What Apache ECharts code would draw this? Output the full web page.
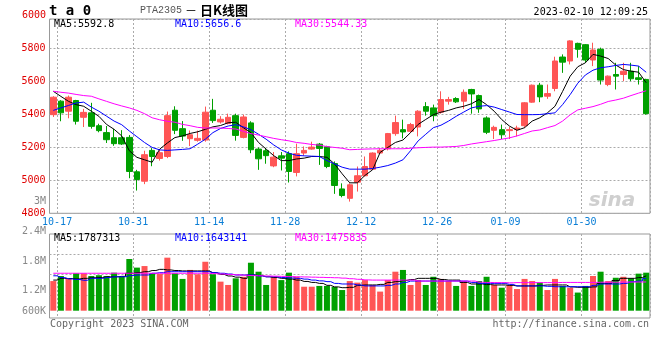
<!DOCTYPE html>
<html>
<head>
<meta charset="utf-8">
<script src="https://cdn.jsdelivr.net/npm/echarts@6/dist/echarts.min.js"></script>
<style>
html,body{margin:0;padding:0;background:#fff;}
#c{width:660px;height:360px;}
</style>
</head>
<body>
<div id="c"></div>
<script>
// ---------- data ----------
const dates = ['10-17','10-18','10-19','10-20','10-21','10-24','10-25','10-26','10-27','10-28',
'10-31','11-01','11-02','11-03','11-04','11-07','11-08','11-09','11-10','11-11',
'11-14','11-15','11-16','11-17','11-18','11-21','11-22','11-23','11-24','11-25',
'11-28','11-29','11-30','12-01','12-02','12-05','12-06','12-07','12-08','12-09',
'12-12','12-13','12-14','12-15','12-16','12-19','12-20','12-21','12-22','12-23',
'12-26','12-27','12-28','12-29','12-30','01-03','01-04','01-05','01-06',
'01-09','01-10','01-11','01-12','01-13','01-16','01-17','01-18','01-19','01-20',
'01-30','01-31','02-01','02-02','02-03','02-06','02-07','02-08','02-09','02-10'];
const tickDates = ['10-17','10-31','11-14','11-28','12-12','12-26','01-09','01-30'];

const opens = [5399,5481,5420,5485,5383,5410,5332,5290,5259,5259,
5261,5052,4995,5182,5133,5145,5426,5314,5253,5243,
5245,5426,5355,5345,5393,5261,5349,5190,5180,5088,
5149,5162,5048,5166,5190,5220,5204,5102,4948,4891,
4989,5028,5068,5166,5192,5284,5308,5298,5324,5448,
5440,5414,5481,5497,5481,5552,5515,5379,5304,5308,
5302,5308,5332,5475,5578,5511,5558,5749,5725,5832,
5824,5731,5796,5582,5643,5643,5663,5623,5613];
const closes = [5505,5410,5505,5359,5413,5328,5302,5247,5223,5221,
5054,5005,5156,5145,5168,5393,5304,5269,5277,5255,
5414,5363,5371,5383,5273,5385,5186,5131,5150,5141,
5135,5054,5162,5182,5202,5194,5084,4969,4908,4973,
5028,5084,5166,5182,5284,5351,5294,5339,5420,5420,
5393,5491,5491,5477,5535,5525,5434,5292,5322,5277,
5308,5318,5471,5578,5507,5527,5725,5718,5847,5796,
5731,5792,5609,5633,5633,5663,5617,5613,5405];
const lows = [5385,5359,5377,5339,5324,5314,5292,5227,5210,5215,
5013,4938,4977,5086,5120,5135,5281,5240,5208,5235,
5235,5349,5345,5340,5241,5255,5165,5064,5101,5080,
5060,4987,5024,5150,5186,5094,5074,4918,4897,4871,
4932,5024,5064,5160,5182,5271,5255,5288,5267,5393,
5359,5405,5460,5470,5434,5405,5410,5281,5251,5251,
5251,5267,5318,5471,5475,5495,5541,5653,5704,5745,
5714,5694,5582,5572,5552,5603,5603,5582,5399];
const highs = [5511,5487,5515,5489,5434,5471,5344,5330,5312,5305,
5275,5064,5180,5196,5186,5418,5450,5360,5303,5302,
5448,5495,5390,5405,5405,5399,5359,5200,5196,5172,
5172,5176,5223,5206,5235,5227,5210,5115,4982,4982,
5084,5145,5170,5196,5288,5393,5369,5349,5426,5475,
5460,5541,5507,5505,5552,5556,5521,5389,5332,5339,
5324,5332,5475,5582,5592,5582,5751,5765,5851,5836,
5828,5836,5806,5637,5714,5714,5714,5694,5617];

const ma5 = [5541,5510,5480,5460,5450,5420,5389,5340,5310,5270,
5180,5140,5125,5110,5190,5227,5260,5270,5285,5295,
5310,5325,5333,5350,5353,5320,5290,5230,5190,5150,
5120,5120,5130,5135,5145,5145,5140,5100,5040,4985,
4985,5030,5064,5170,5200,5230,5245,5290,5340,5370,
5399,5414,5425,5440,5450,5465,5491,5460,5420,5369,
5330,5304,5320,5360,5380,5410,5450,5540,5633,5690,
5714,5765,5755,5740,5700,5673,5663,5657,5592.8];
const ma10 = [5425,5440,5455,5470,5475,5445,5420,5390,5360,5338,
5300,5265,5230,5200,5185,5182,5185,5188,5192,5220,
5250,5290,5315,5330,5338,5325,5308,5280,5250,5215,
5185,5165,5152,5149,5147,5145,5120,5100,5080,5068,
5068,5068,5072,5080,5090,5105,5125,5180,5240,5280,
5320,5335,5360,5389,5415,5440,5450,5454,5445,5430,
5415,5400,5399,5399,5400,5405,5410,5460,5521,5590,
5640,5669,5684,5690,5698,5704,5700,5694,5656.6];
const ma30 = [5541,5535,5530,5522,5515,5511,5495,5480,5465,5452,
5440,5425,5405,5380,5368,5359,5353,5340,5332,5322,
5318,5318,5318,5315,5312,5298,5284,5275,5265,5255,
5247,5240,5230,5225,5218,5214,5205,5200,5195,5186,
5188,5190,5191,5192,5192,5192,5192,5195,5198,5200,
5202,5202,5204,5206,5212,5221,5228,5235,5242,5250,
5258,5270,5285,5300,5306,5320,5333,5360,5398,5428,
5438,5448,5462,5479,5488,5499,5515,5530,5544.33];

const volumes = [1520000,1780000,1630000,1920000,1920000,1780000,1820000,1780000,1950000,1740000,
2650000,2210000,2290000,1920000,1880000,2720000,1920000,1630000,2090000,1870000,
2510000,1870000,1490000,1320000,1660000,1740000,2460000,2000000,1320000,1740000,
1570000,1950000,1740000,1230000,1230000,1270000,1270000,1220000,1060000,1520000,
1440000,1570000,1320000,980000,1570000,2000000,2090000,1320000,1570000,1320000,
1740000,1630000,1520000,1270000,1520000,1270000,1520000,1740000,1320000,1180000,
1320000,1110000,1630000,1520000,1440000,1060000,1630000,1270000,1180000,930000,
1270000,1780000,2000000,1520000,1690000,1740000,1660000,1900000,1950000];
const volMa5 = [1570000,1660000,1650000,1630000,1660000,1690000,1700000,1740000,1740000,1760000,
1920000,1960000,2000000,2060000,2120000,2090000,2060000,2040000,2040000,2040000,
2040000,1950000,1860000,1780000,1720000,1660000,1830000,1800000,1740000,1700000,
1660000,1620000,1570000,1500000,1450000,1400000,1300000,1220000,1180000,1200000,
1300000,1320000,1320000,1350000,1450000,1490000,1550000,1600000,1660000,1660000,
1660000,1600000,1570000,1570000,1450000,1370000,1370000,1340000,1320000,1320000,
1300000,1270000,1270000,1270000,1300000,1320000,1320000,1320000,1220000,1200000,
1200000,1220000,1400000,1400000,1550000,1660000,1660000,1700000,1787313];
const volMa10 = [1790000,1700000,1630000,1600000,1560000,1660000,1660000,1700000,1740000,1740000,
1800000,1830000,1830000,1920000,1950000,2000000,2000000,2000000,2000000,2000000,
2000000,1950000,1920000,1880000,1830000,1830000,1830000,1780000,1740000,1740000,
1700000,1680000,1660000,1620000,1570000,1530000,1490000,1400000,1370000,1370000,
1320000,1270000,1270000,1270000,1300000,1370000,1450000,1520000,1520000,1520000,
1520000,1520000,1520000,1520000,1520000,1450000,1400000,1400000,1400000,1400000,
1350000,1270000,1270000,1270000,1270000,1250000,1230000,1230000,1230000,1230000,
1230000,1300000,1370000,1370000,1370000,1400000,1490000,1520000,1643141];
const volMa30 = [1920000,1920000,1920000,1920000,1920000,1920000,1920000,1920000,1920000,1920000,
1920000,1920000,1920000,1920000,1920000,1920000,1920000,1920000,1920000,1920000,
1920000,1900000,1880000,1860000,1840000,1820000,1800000,1790000,1780000,1770000,
1760000,1750000,1740000,1730000,1720000,1710000,1700000,1690000,1670000,1640000,
1610000,1580000,1570000,1570000,1570000,1570000,1570000,1570000,1520000,1520000,
1520000,1520000,1520000,1520000,1520000,1520000,1460000,1450000,1440000,1440000,
1430000,1440000,1440000,1440000,1440000,1440000,1440000,1450000,1450000,1450000,
1450000,1450000,1460000,1460000,1460000,1470000,1470000,1470000,1475835];

const priceTop = '6000';
const volTickLabels = ['2.4M','1.8M','1.2M','600K'];

// ---------- chart ----------
const MONO = '"DejaVu Sans Mono", "Liberation Mono", monospace';
const UP = '#ff5555', DOWN = '#00a000';
const tickIdx = tickDates.map(d => dates.indexOf(d));
const kData = opens.map((o, i) => [o, closes[i], lows[i], highs[i]]);
const volData = volumes.map((v, i) => ({
  value: v,
  itemStyle: { color: closes[i] >= opens[i] ? UP : DOWN }
}));

const GL = 49.5, GW = 600.5;
const dotted = { color: '#aaa', type: [2, 2], width: 1 };

const chart = echarts.init(document.getElementById('c'), null, { renderer: 'canvas' });

function txt(text, x, y, fill, opts) {
  opts = opts || {};
  return {
    type: 'text', x: x, y: y, silent: true, z: 100,
    style: {
      text: text, fill: fill,
      font: opts.font || ('10px ' + MONO),
      align: opts.align || 'left',
      verticalAlign: 'middle'
    }
  };
}

chart.setOption({
  animation: false,
  backgroundColor: '#fff',
  grid: [
    { left: GL, top: 19, width: GW, height: 194.3, show: true, borderColor: '#999', borderWidth: 1 },
    { left: GL, top: 234, width: GW, height: 84, show: true, borderColor: '#999', borderWidth: 1 }
  ],
  xAxis: [
    {
      type: 'category', gridIndex: 0, data: dates, boundaryGap: true,
      axisLine: { show: false }, axisTick: { show: false },
      axisLabel: {
        interval: (i, v) => tickDates.indexOf(v) >= 0,
        color: '#0a7ed6', fontFamily: MONO, fontSize: 10, margin: 4,
        padding: [0, 0, 0, 7.6]
      },
      splitLine: { show: true, interval: (i) => tickIdx.indexOf(i - 1) >= 0, lineStyle: dotted }
    },
    {
      type: 'category', gridIndex: 1, data: dates, boundaryGap: true,
      axisLine: { show: false }, axisTick: { show: false }, axisLabel: { show: false },
      splitLine: { show: true, interval: (i) => tickIdx.indexOf(i - 1) >= 0, lineStyle: dotted }
    }
  ],
  yAxis: [
    {
      type: 'value', gridIndex: 0, min: 4800, max: 5980, interval: 200,
      axisLine: { show: false }, axisTick: { show: false },
      axisLabel: { color: '#e00000', fontFamily: MONO, fontSize: 10, margin: 4, showMaxLabel: false, formatter: (v) => String(v) },
      splitLine: { show: true, lineStyle: dotted }
    },
    {
      type: 'value', gridIndex: 1, min: -374000, max: 3933000,
      axisLine: { show: false }, axisTick: { show: false }, axisLabel: { show: false },
      splitLine: { show: false }
    },
    {
      type: 'value', gridIndex: 1, inverse: true, min: 0, max: 4.14, interval: 1,
      axisLine: { show: false }, axisTick: { show: false }, axisLabel: { show: false },
      splitLine: { show: true, lineStyle: { color: ['rgba(0,0,0,0)', '#aaa', '#aaa', '#aaa', 'rgba(0,0,0,0)', 'rgba(0,0,0,0)'], type: [2, 2], width: 1 } }
    }
  ],
  series: [
    {
      type: 'candlestick', xAxisIndex: 0, yAxisIndex: 0, data: kData, barWidth: 6,
      itemStyle: { color: UP, color0: DOWN, borderColor: UP, borderColor0: DOWN, borderWidth: 1 }
    },
    { type: 'line', xAxisIndex: 0, yAxisIndex: 0, data: ma5, symbol: 'none', lineStyle: { color: '#000', width: 1 }, z: 5 },
    { type: 'line', xAxisIndex: 0, yAxisIndex: 0, data: ma10, symbol: 'none', lineStyle: { color: '#0000ff', width: 1 }, z: 5 },
    { type: 'line', xAxisIndex: 0, yAxisIndex: 0, data: ma30, symbol: 'none', lineStyle: { color: '#ff00ff', width: 1 }, z: 5 },
    { type: 'bar', xAxisIndex: 1, yAxisIndex: 1, data: volData, barWidth: 6 },
    { type: 'line', xAxisIndex: 1, yAxisIndex: 1, data: volMa5, symbol: 'none', step: 'middle', lineStyle: { color: '#000', width: 1 }, z: 5 },
    { type: 'line', xAxisIndex: 1, yAxisIndex: 1, data: volMa10, symbol: 'none', step: 'middle', lineStyle: { color: '#0000ff', width: 1 }, z: 5 },
    { type: 'line', xAxisIndex: 1, yAxisIndex: 1, data: volMa30, symbol: 'none', step: 'middle', lineStyle: { color: '#ff00ff', width: 1 }, z: 5 }
  ],
  graphic: [
    txt('t a 0', 49, 11, '#000', { font: 'bold 14px ' + MONO }),
    txt('PTA2305', 140, 10, '#555', { font: '10px "Liberation Mono", monospace' }),
    txt('－', 191, 10, '#000', { font: '12px "Noto Sans CJK SC"', align: 'center' }),
    txt('日K线图', 200, 10, '#000', { font: 'bold 13px "Noto Sans CJK SC"' }),
    txt('2023-02-10 12:09:25', 648, 12, '#000', { align: 'right' }),
    txt('MA5:' + ma5[ma5.length - 1], 54, 24, '#000'),
    txt('MA10:' + ma10[ma10.length - 1], 175, 24, '#0000ff'),
    txt('MA30:' + ma30[ma30.length - 1], 295, 24, '#ff00ff'),
    txt(priceTop, 46, 15.7, '#e00000', { align: 'right' }),
    txt('3M', 46, 201, '#888', { align: 'right' }),
    txt(volTickLabels[0], 46, 231, '#888', { align: 'right' }),
    txt(volTickLabels[1], 46, 261, '#888', { align: 'right' }),
    txt(volTickLabels[2], 46, 290, '#888', { align: 'right' }),
    txt(volTickLabels[3], 46, 311, '#888', { align: 'right' }),
    txt('MA5:' + volMa5[volMa5.length - 1], 54, 238.5, '#000'),
    txt('MA10:' + volMa10[volMa10.length - 1], 175, 238.5, '#0000ff'),
    txt('MA30:' + volMa30[volMa30.length - 1], 295, 238.5, '#ff00ff'),
    txt('Copyright 2023 SINA.COM', 50, 324, '#666'),
    txt('http://finance.sina.com.cn', 649, 324, '#666', { align: 'right' }),
    txt('sina', 612, 201, '#cfcfcf', { font: 'italic bold 20px "DejaVu Sans", sans-serif', align: 'center' })
  ]
});
</script>
</body>
</html>
